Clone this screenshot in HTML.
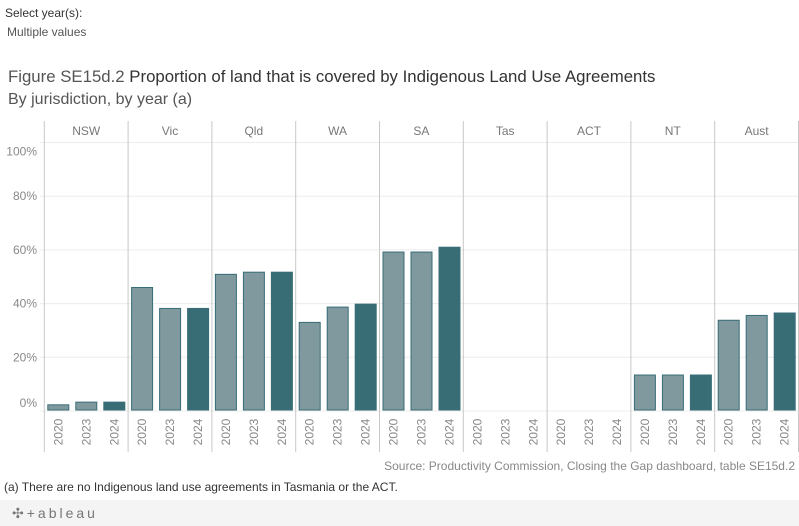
<!DOCTYPE html>
<html><head><meta charset="utf-8"><style>
body{margin:0;width:799px;height:526px;background:#fff;font-family:"Liberation Sans",sans-serif;position:relative;overflow:hidden}
.t{position:absolute;white-space:nowrap}
</style></head><body>
<div class="t" style="left:5px;top:6px;font-size:12px;color:#333">Select year(s):</div>
<div class="t" style="left:7px;top:25px;font-size:12px;color:#555">Multiple values</div>
<div class="t" style="left:8px;top:67px;font-size:16.8px;color:#555">Figure SE15d.2 <span style="color:#333">Proportion of land that is covered by Indigenous Land Use Agreements</span></div>
<div class="t" style="left:8px;top:91px;font-size:16px;color:#555">By jurisdiction, by year (a)</div>
<svg id="c" width="799" height="460" style="position:absolute;left:0;top:0"></svg>
<div class="t" style="right:4px;top:459px;font-size:12px;color:#888">Source: Productivity Commission, Closing the Gap dashboard, table SE15d.2</div>
<div class="t" style="left:4px;top:480px;font-size:12px;color:#333">(a) There are no Indigenous land use agreements in Tasmania or the ACT.</div>
<div style="position:absolute;left:0;top:500px;width:799px;height:26px;background:#f4f4f4"></div>
<div class="t" style="left:12px;top:505px;font-size:14px;color:#777;letter-spacing:3px">✣+ableau</div>
<script>
const jurisdictions=["NSW","Vic","Qld","WA","SA","Tas","ACT","NT","Aust"];
const years=["2020","2023","2024"];
const values=[[2.3,3.3,3.3],[46,38.2,38.2],[50.9,51.7,51.7],[33,38.7,39.8],[59.2,59.2,61],[null,null,null],[null,null,null],[13.4,13.4,13.4],[33.8,35.6,36.5]];
const ticks=[0,20,40,60,80,100];
const svg=document.getElementById('c');const NS='http://www.w3.org/2000/svg';
function mk(t,a,txt){const e=document.createElementNS(NS,t);for(const k in a)e.setAttribute(k,a[k]);if(txt!=null)e.textContent=txt;svg.appendChild(e);return e;}
const x0=44.3,pw=83.8,y0=411,ppp=2.685;
const y=v=>y0-v*ppp;
ticks.forEach(t=>{const l=mk('line',{x1:40,x2:799,y1:y(t),y2:y(t),stroke:'#ececec'});

const ly=t==0?y(t)-4:(t==100?y(t)+13:y(t)+4);
const tx=mk('text',{x:37,y:ly,'text-anchor':'end','font-size':12,fill:'#888'},t+'%');
});
jurisdictions.forEach((j,i)=>{const px=x0+i*pw;
const l=mk('line',{x1:px,x2:px,y1:121,y2:452,stroke:'#c8c8c8'});

const h=mk('text',{x:px+pw/2,y:135,'text-anchor':'middle','font-size':12,fill:'#777'},j);

years.forEach((yr,k)=>{const bx=px+3+k*28;const v=values[i][k];
if(v!=null){const r=mk('rect',{x:bx+0.5,y:y(v),width:21,height:y0-y(v)-1,fill:k==2?'#386d76':'#7f999e',stroke:'#386d76','stroke-width':1});
}
const cx=bx+11;const tt=mk('text',{x:cx,y:432,'text-anchor':'middle','dominant-baseline':'central','font-size':12,fill:'#888',transform:`rotate(-90 ${cx} 432)`},yr);
});});
const e=mk('line',{x1:x0+9*pw,x2:x0+9*pw,y1:121,y2:452,stroke:'#c8c8c8'});

</script>
</body></html>
